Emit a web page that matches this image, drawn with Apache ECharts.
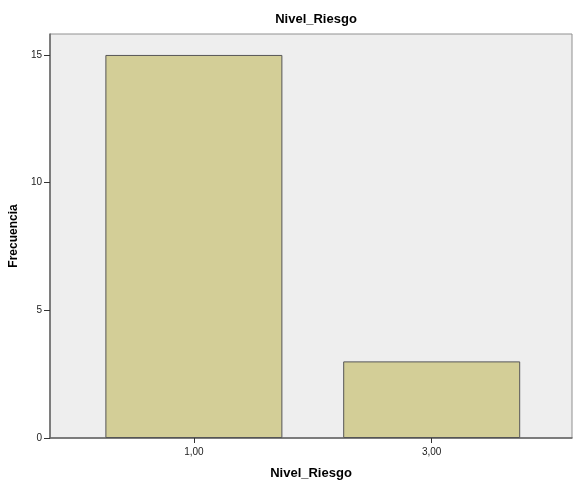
<!DOCTYPE html>
<html><head><meta charset="utf-8">
<script src="https://cdn.jsdelivr.net/npm/echarts@6/dist/echarts.min.js"></script>
<style>html,body{margin:0;padding:0;background:#fff}#c{width:573px;height:482px}</style>
</head><body><div id="c"></div>
<script>
const categories = [1, 3];
const categoryLabels = ['1,00', '3,00'];
const frequencies = [15, 3];
const yTicks = [0, 5, 10, 15];

const font = '"Liberation Sans", Arial, sans-serif';
const chart = echarts.init(document.getElementById('c'), null, {renderer: 'canvas'});
chart.setOption({
  animation: false,
  backgroundColor: '#ffffff',
  title: {
    text: 'Nivel_Riesgo', left: 311, top: 8, textAlign: 'center',
    textStyle: {fontFamily: font, fontSize: 13, fontWeight: 'bold', color: '#000'}
  },
  grid: {
    left: 50, right: 1, top: 34, bottom: 44,
    outerBoundsMode: 'none', containLabel: false,
    show: true, backgroundColor: '#eeeeee', borderColor: '#909090', borderWidth: 1
  },
  xAxis: {
    type: 'value', min: -0.21, max: 4.18,
    name: 'Nivel_Riesgo', nameLocation: 'middle', nameGap: 29,
    nameTextStyle: {fontFamily: font, fontSize: 13, fontWeight: 'bold', color: '#000'},
    splitLine: {show: false},
    axisLine: {show: true, onZero: false, lineStyle: {color: '#666', width: 1.5}},
    axisTick: {show: true, length: 5, lineStyle: {color: '#333'}, customValues: categories},
    axisLabel: {
      fontFamily: font, fontSize: 10, color: '#222', margin: 9,
      customValues: categories,
      formatter: v => { const i = categories.indexOf(v); return i >= 0 ? categoryLabels[i] : ''; }
    }
  },
  yAxis: {
    type: 'value', min: 0, max: 15.82, interval: 5,
    name: 'Frecuencia', nameLocation: 'middle', nameGap: 25, nameRotate: 90,
    nameTextStyle: {fontFamily: font, fontSize: 12, fontWeight: 'bold', color: '#000'},
    splitLine: {show: false},
    axisLine: {show: true, onZero: false, lineStyle: {color: '#666', width: 1.5}},
    axisTick: {show: true, length: 6, lineStyle: {color: '#333'}, customValues: yTicks},
    axisLabel: {fontFamily: font, fontSize: 10, color: '#222', margin: 8, customValues: yTicks}
  },
  series: [{
    type: 'bar',
    data: categories.map((c, i) => [c, frequencies[i]]),
    barWidth: 177,
    itemStyle: {color: '#d3ce97', borderColor: '#555', borderWidth: 1}
  }]
});
</script></body></html>
